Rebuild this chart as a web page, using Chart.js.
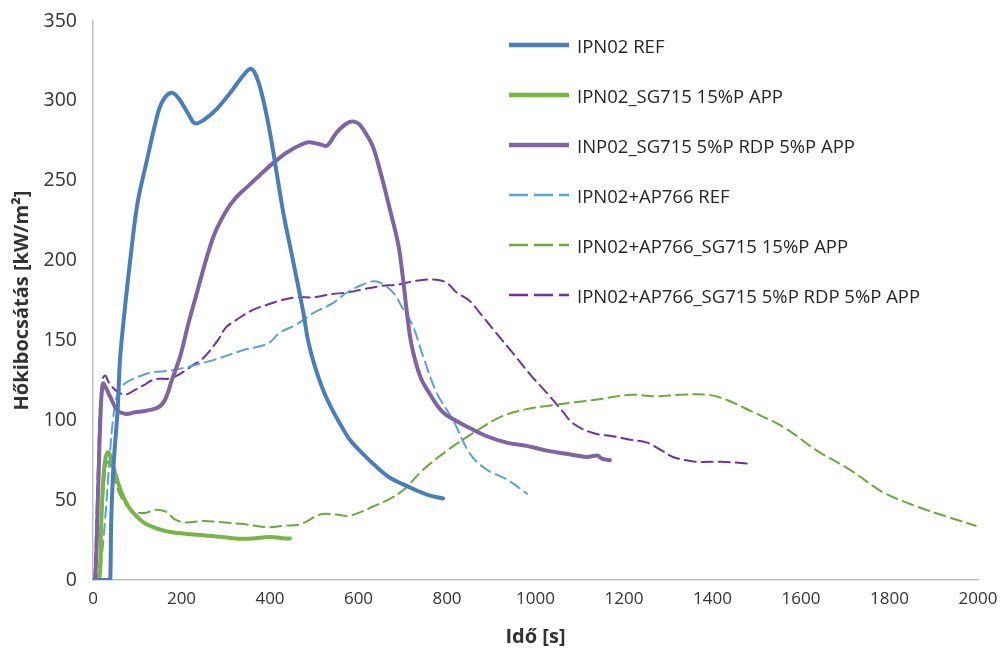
<!DOCTYPE html>
<html>
<head>
<meta charset="utf-8">
<script src="https://cdn.jsdelivr.net/npm/chart.js@4.4.0/dist/chart.umd.min.js"></script>
<style>
body { margin: 0; background: #fff; }
#wrap { position: relative; width: 1003px; height: 651px; }
#legend { position: absolute; left: 508px; top: 20px; font-family: "Open Sans"; font-size: 18.5px; color: #262626; }
#legend .row { height: 50px; display: flex; align-items: center; }
#legend svg { margin-right: 7px; }
</style>
</head>
<body>
<div id="wrap">
  <canvas id="chart" width="1003" height="651"></canvas>
  <div id="legend"></div>
</div>
<script>
// idő [s] / hőkibocsátás [kW/m2], leolvasva a görbékről
const refX = [0, 36, 39, 41, 46, 56, 61, 72, 84, 100, 122, 140, 151, 165, 180, 195, 215, 230, 250, 280, 310, 340, 355, 365, 380, 400, 430, 452, 475, 486, 500, 520, 540, 558, 580, 610, 640, 671, 700, 732, 760, 791];
const refY = [0, 0, 0, 35, 70, 108, 138, 170, 200, 235, 263, 285, 296, 303, 305, 301, 292, 286, 288, 295, 305, 316, 320, 318, 306, 280, 230, 200, 168, 150, 135, 119, 107, 98, 88, 79, 71, 64, 60, 56, 53, 51];

const appX = [0, 14, 18, 23, 28, 34, 40, 50, 60, 72, 85, 102, 120, 147, 175, 208, 250, 290, 321, 360, 400, 434, 445];
const appY = [0, 0, 31, 62, 76, 80, 77, 67, 58, 50, 44, 39, 35, 32, 30, 29, 28, 27, 26, 26, 27, 26, 26];

const rdpX = [0, 5, 12, 18, 23, 28, 40, 56, 75, 95, 120, 147, 163, 178, 197, 215, 235, 255, 275, 303, 325, 348, 375, 407, 440, 484, 510, 529, 550, 574, 590, 603, 620, 633, 650, 671, 690, 700, 710, 720, 740, 760, 784, 800, 852, 890, 935, 980, 1026, 1070, 1116, 1140, 1150, 1168];
const rdpY = [0, 0, 60, 110, 123, 121, 114, 106, 104, 105, 106, 108, 113, 125, 140, 160, 180, 200, 217, 232, 240, 246, 253, 261, 268, 274, 273, 272, 280, 286, 287, 285, 278, 271, 255, 232, 210, 190, 166, 147, 127, 117, 107, 103, 95, 90, 86, 84, 81, 79, 77, 78, 76, 75];

const apRefX = [0, 12, 20, 28, 36, 45, 56, 72, 100, 133, 170, 208, 250, 287, 340, 395, 423, 460, 497, 540, 574, 610, 633, 650, 678, 700, 723, 746, 777, 814, 852, 890, 935, 981];
const apRefY = [0, 0, 15, 40, 70, 100, 117, 123, 127, 130, 131, 133, 136, 139, 144, 148, 155, 160, 167, 173, 180, 185, 187, 186, 180, 170, 159, 140, 117, 100, 79, 69, 63, 54];

const apAppX = [0, 10, 18, 25, 32, 40, 50, 60, 75, 90, 118, 140, 163, 185, 208, 250, 298, 340, 395, 430, 470, 513, 550, 574, 600, 633, 665, 700, 746, 800, 859, 920, 980, 1026, 1080, 1139, 1214, 1270, 1327, 1388, 1430, 1485, 1559, 1636, 1711, 1785, 1862, 1937, 1995];
const apAppY = [0, 0, 30, 60, 74, 72, 62, 54, 47, 43, 42, 44, 43, 38, 36, 37, 36, 35, 33, 34, 35, 41, 41, 40, 42, 46, 50, 56, 69, 81, 92, 102, 107, 109, 111, 113, 116, 115, 116, 116, 113, 106, 96, 81, 69, 55, 46, 39, 34];

const apRdpX = [0, 3, 10, 16, 22, 28, 35, 43, 55, 72, 95, 115, 133, 150, 170, 190, 208, 228, 246, 282, 300, 325, 360, 390, 423, 460, 497, 540, 574, 610, 649, 690, 723, 750, 777, 800, 822, 850, 875, 910, 949, 990, 1026, 1060, 1085, 1130, 1175, 1210, 1252, 1280, 1311, 1340, 1364, 1420, 1478];
const apRdpY = [0, 0, 60, 110, 126, 128, 124, 121, 118, 116, 119, 122, 125, 126, 126, 128, 131, 135, 138, 150, 158, 163, 169, 172, 175, 177, 177, 179, 180, 182, 184, 185, 187, 188, 188, 186, 180, 175, 167, 155, 142, 128, 117, 106, 98, 92, 90, 88, 86, 82, 77, 75, 74, 74, 73];

const labels = [
    "IPN02 REF",
    "IPN02_SG715 15%P APP",
    "INP02_SG715 5%P RDP 5%P APP",
    "IPN02+AP766 REF",
    "IPN02+AP766_SG715 15%P APP",
    "IPN02+AP766_SG715 5%P RDP 5%P APP"
];

function toPoints(xs, ys) {
    return xs.map((x, i) => ({ x: x, y: ys[i] }));
}

const series = [
    { data: toPoints(refX, refY), color: "#4a7ebb", width: 4, dash: [] },
    { data: toPoints(appX, appY), color: "#77b544", width: 4, dash: [] },
    { data: toPoints(rdpX, rdpY), color: "#8064a2", width: 4, dash: [] },
    { data: toPoints(apRefX, apRefY), color: "#5aa2d8", width: 2, dash: [11, 6] },
    { data: toPoints(apAppX, apAppY), color: "#6aaa3c", width: 2, dash: [11, 6] },
    { data: toPoints(apRdpX, apRdpY), color: "#7030a0", width: 2, dash: [11, 6] }
];

const datasets = series.map((s, i) => ({
    label: labels[i],
    data: s.data,
    borderColor: s.color,
    backgroundColor: "transparent",
    borderWidth: s.width,
    borderDash: s.dash,
    pointRadius: 0,
    tension: 0.35,
    borderCapStyle: "round",
    borderJoinStyle: "round",
    order: s.dash.length ? 2 : 1
}));

// jelmagyarázat
const legend = document.getElementById("legend");
series.forEach((s, i) => {
    const row = document.createElement("div");
    row.className = "row";
    const dash = s.dash.length ? ' stroke-dasharray="19 6"' : '';
    row.innerHTML = '<svg width="62" height="8"><line x1="1" y1="4" x2="61" y2="4" stroke="' + s.color +
        '" stroke-width="' + (s.dash.length ? 2.5 : 4.5) + '"' + dash + '/></svg><span>' + labels[i] + '</span>';
    legend.appendChild(row);
});

const titleFont = { family: "Open Sans", size: 20, weight: "bold" };

new Chart(document.getElementById("chart"), {
    type: "line",
    data: { datasets: datasets },
    options: {
        responsive: false,
        animation: false,
        layout: { padding: { top: 21, right: 25, left: 0, bottom: 0 } },
        plugins: { legend: { display: false }, tooltip: { enabled: false } },
        scales: {
            x: {
                type: "linear",
                min: 0, max: 2000,
                ticks: { stepSize: 200, color: "#333", font: { family: "Open Sans", size: 17 }, padding: 9, maxRotation: 0,
                    callback: (v) => String(v) },
                grid: { display: false, drawTicks: false },
                border: { color: "#bfbfbf", width: 1.5 },
                title: { display: true, text: "Idő [s]", color: "#333", font: titleFont, padding: { top: 0, bottom: 2 } },
                afterFit: (scale) => { scale.height = 71; scale.paddingLeft = 0; scale.paddingRight = 0; }
            },
            y: {
                min: 0, max: 350,
                ticks: { stepSize: 50, color: "#333", font: { family: "Open Sans", size: 19.5 }, padding: 16 },
                grid: { display: false, drawTicks: false },
                border: { color: "#bfbfbf", width: 1.5 },
                title: { display: true, text: "Hőkibocsátás [kW/m²]", color: "#333", font: titleFont, padding: { top: 10, bottom: 0 } },
                afterFit: (scale) => { scale.width = 93; scale.paddingTop = 0; scale.paddingBottom = 0; }
            }
        }
    }
});
</script>
</body>
</html>
